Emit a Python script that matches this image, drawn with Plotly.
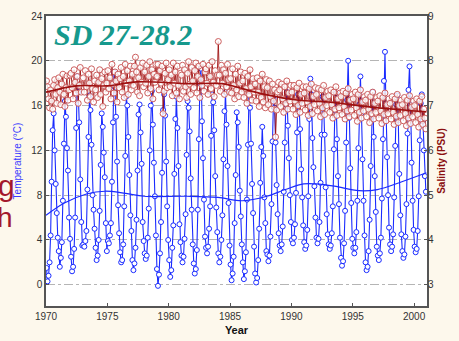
import plotly.graph_objects as go

years = list(range(1970, 2001))
months = list(range(1, 13))

# monthly temperature (°C), Jan..Dec for each year
temperature = [
    1.5, 0.3, 0.8, 2.0, 4.4, 9.2, 13.8, 15.3, 12.0, 9.0, 6.4, 4.2,      # 1970
    3.0, 1.6, 2.4, 3.8, 7.5, 12.6, 16.4, 15.0, 12.2, 10.2, 6.0, 4.1,    # 1971
    2.5, 1.2, 1.6, 3.2, 6.0, 14.0, 18.6, 17.2, 14.5, 9.4, 5.6, 3.5,     # 1972
    3.6, 3.4, 3.9, 4.8, 8.5, 13.2, 16.9, 15.6, 12.5, 8.0, 6.7, 5.0,     # 1973
    3.3, 2.2, 2.6, 4.0, 6.6, 10.7, 15.3, 14.1, 11.8, 9.6, 5.5, 3.0,     # 1974
    3.9, 3.7, 4.4, 5.5, 9.2, 14.5, 19.0, 17.6, 15.0, 11.0, 7.1, 4.6,    # 1975
    2.9, 2.0, 2.2, 3.6, 7.0, 11.5, 16.8, 16.0, 13.2, 9.8, 6.2, 4.8,     # 1976
    2.2, 1.3, 1.9, 3.3, 5.8, 10.2, 15.2, 16.1, 13.6, 10.8, 5.6, 3.9,    # 1977
    2.8, 2.3, 2.6, 4.2, 6.8, 12.0, 16.0, 17.3, 14.3, 10.9, 7.9, 4.4,    # 1978
    1.4, -0.1, 0.9, 2.8, 5.6, 10.0, 15.6, 17.0, 15.1, 11.0, 7.0, 4.0,   # 1979
    2.2, 0.7, 1.3, 3.3, 5.3, 9.9, 14.8, 16.8, 14.0, 10.6, 5.4, 3.8,     # 1980
    2.6, 2.0, 2.5, 4.1, 6.3, 11.6, 16.4, 15.8, 13.7, 9.5, 6.7, 3.6,     # 1981
    1.9, 1.0, 1.4, 3.1, 6.7, 13.0, 18.0, 19.3, 14.6, 11.3, 7.6, 4.3,    # 1982
    3.3, 2.8, 3.4, 5.0, 7.0, 13.3, 17.0, 16.3, 13.8, 9.7, 6.9, 4.7,     # 1983
    2.8, 2.0, 2.5, 4.0, 6.2, 11.2, 15.5, 17.2, 14.3, 10.6, 7.3, 3.5,    # 1984
    1.8, 0.4, 1.0, 2.5, 5.5, 9.8, 15.4, 14.5, 12.3, 8.4, 6.1, 3.6,      # 1985
    2.0, 0.5, 1.2, 2.9, 7.6, 12.5, 16.9, 15.8, 12.6, 9.0, 6.4, 3.4,     # 1986
    1.0, 0.2, 0.6, 2.2, 5.0, 9.1, 12.3, 14.1, 11.5, 7.8, 5.5, 3.0,      # 1987
    2.7, 2.1, 2.6, 4.3, 7.2, 12.8, 16.6, 15.8, 12.7, 8.9, 6.3, 4.6,     # 1988
    3.5, 3.0, 3.6, 5.2, 8.3, 12.7, 16.1, 17.2, 14.2, 11.3, 8.0, 5.6,    # 1989
    4.0, 3.7, 4.2, 5.4, 8.2, 13.6, 17.0, 16.2, 13.9, 10.3, 7.8, 5.3,    # 1990
    3.8, 3.2, 3.5, 4.9, 7.9, 14.8, 18.4, 17.0, 13.1, 10.5, 8.8, 6.0,    # 1991
    4.2, 3.7, 4.1, 5.6, 9.1, 13.4, 16.8, 16.1, 13.4, 8.7, 6.3, 4.5,     # 1992
    3.6, 3.2, 3.5, 4.6, 7.0, 12.1, 15.6, 17.1, 13.0, 9.7, 7.2, 4.2,     # 1993
    2.4, 1.7, 2.1, 3.7, 6.6, 12.7, 16.5, 20.0, 14.9, 10.4, 7.3, 4.1,    # 1994
    3.3, 2.8, 3.3, 4.7, 7.5, 12.2, 16.1, 18.6, 15.3, 11.2, 7.5, 4.4,    # 1995
    2.0, 1.3, 1.6, 3.0, 5.8, 10.6, 15.2, 17.2, 13.2, 9.7, 6.5, 3.4,     # 1996
    2.6, 2.2, 2.8, 4.2, 7.7, 13.0, 18.2, 20.8, 15.6, 11.4, 8.0, 5.1,    # 1997
    3.6, 3.0, 3.4, 4.5, 7.8, 12.4, 16.1, 16.9, 14.7, 9.9, 6.2, 4.5,     # 1998
    3.0, 2.4, 2.7, 4.3, 7.2, 13.5, 17.4, 19.5, 16.1, 10.9, 7.5, 4.9,    # 1999
    3.4, 2.9, 3.2, 4.8, 7.9, 12.9, 16.2, 17.0, 14.6, 12.0, 9.7, 8.3,    # 2000
]

# monthly salinity (PSU), Jan..Dec for each year
salinity = [
    7.55, 7.42, 7.15, 6.95, 7.35, 7.10, 6.92, 7.45, 7.58, 7.25, 7.05, 7.40,  # 1970
    7.62, 7.30, 7.02, 7.48, 7.70, 7.25, 6.98, 7.40, 7.66, 7.12, 7.35, 7.68,  # 1971
    7.72, 7.40, 7.15, 7.80, 7.52, 7.28, 7.65, 7.05, 7.45, 7.85, 7.30, 7.60,  # 1972
    7.62, 7.30, 7.78, 7.42, 7.12, 7.70, 7.50, 7.20, 7.82, 7.38, 7.08, 7.55,  # 1973
    7.35, 7.68, 7.18, 7.52, 7.80, 7.25, 7.60, 6.98, 7.45, 7.75, 7.30, 7.50,  # 1974
    7.78, 7.38, 7.62, 7.15, 7.92, 7.48, 7.28, 7.75, 7.55, 7.08, 7.70, 7.40,  # 1975
    7.60, 7.85, 7.30, 7.65, 7.18, 7.92, 7.50, 7.78, 7.25, 7.55, 7.88, 7.35,  # 1976
    7.70, 7.45, 7.88, 8.08, 7.75, 7.30, 7.62, 7.22, 7.85, 7.52, 7.95, 7.42,  # 1977
    7.75, 7.50, 7.90, 7.28, 7.65, 7.98, 7.38, 7.80, 7.15, 7.70, 7.52, 7.92,  # 1978
    7.65, 7.92, 7.35, 7.78, 7.50, 7.88, 6.82, 7.32, 7.72, 7.95, 7.40, 7.58,  # 1979
    7.80, 7.42, 7.68, 7.22, 7.95, 7.50, 7.75, 7.28, 7.88, 7.45, 7.15, 7.72,  # 1980
    7.68, 7.90, 7.32, 7.80, 7.42, 7.18, 7.72, 7.98, 7.48, 7.25, 7.85, 7.55,  # 1981
    7.40, 7.78, 7.95, 7.28, 7.65, 7.88, 7.18, 7.58, 7.45, 7.92, 7.32, 7.75,  # 1982
    7.82, 7.50, 7.25, 7.90, 7.65, 7.38, 7.98, 7.52, 7.20, 7.78, 7.45, 7.68,  # 1983
    8.43, 7.68, 7.32, 7.90, 7.50, 7.80, 7.25, 7.72, 7.42, 7.92, 7.58, 7.30,  # 1984
    7.60, 7.28, 7.82, 7.45, 7.15, 7.70, 7.35, 7.88, 7.20, 7.50, 7.75, 7.30,  # 1985
    7.55, 7.18, 7.72, 7.38, 7.05, 7.65, 7.25, 7.80, 7.42, 7.12, 7.60, 7.30,  # 1986
    7.48, 7.10, 7.62, 7.30, 6.98, 7.55, 7.18, 7.70, 7.08, 7.42, 6.95, 7.58,  # 1987
    7.40, 7.02, 7.55, 7.20, 6.92, 7.48, 7.10, 7.35, 6.30, 6.90, 7.30, 7.52,  # 1988
    7.35, 6.98, 7.48, 7.15, 6.85, 7.42, 7.05, 7.55, 6.92, 7.28, 7.10, 7.45,  # 1989
    7.30, 6.92, 7.45, 7.10, 6.80, 7.40, 7.00, 7.50, 6.85, 7.25, 7.05, 7.42,  # 1990
    7.28, 6.90, 7.42, 7.08, 6.78, 7.38, 6.98, 7.48, 6.82, 7.20, 7.02, 7.40,  # 1991
    7.25, 6.88, 7.38, 7.05, 6.75, 7.35, 6.95, 7.45, 6.80, 7.18, 7.00, 7.32,  # 1992
    7.22, 6.85, 7.35, 7.02, 6.72, 7.30, 6.92, 7.42, 6.78, 7.15, 6.95, 7.28,  # 1993
    7.20, 6.80, 7.32, 6.98, 6.70, 7.28, 6.88, 7.38, 6.75, 7.12, 6.90, 7.25,  # 1994
    7.15, 6.78, 7.30, 6.95, 6.65, 7.25, 6.85, 7.35, 6.72, 7.08, 6.88, 7.20,  # 1995
    7.12, 6.75, 7.25, 6.92, 6.62, 7.20, 6.82, 7.30, 6.70, 7.05, 6.85, 7.18,  # 1996
    7.10, 6.72, 7.22, 6.88, 6.60, 7.18, 6.80, 7.28, 6.66, 7.02, 6.82, 7.15,  # 1997
    7.05, 6.70, 7.20, 6.85, 6.58, 7.15, 6.76, 7.25, 6.62, 7.00, 6.78, 7.12,  # 1998
    7.02, 6.66, 7.18, 6.82, 6.55, 7.12, 6.72, 7.22, 6.60, 6.96, 6.75, 7.10,  # 1999
    7.00, 6.62, 7.15, 6.80, 6.52, 7.10, 6.70, 7.20, 6.58, 6.92, 6.72, 6.48,  # 2000
]

# smoothed trends
temp_trend_years = [1970, 1971.5, 1973.3, 1974.8, 1976.5, 1978, 1981.5, 1984, 1986, 1988,
                    1989.5, 1991, 1992, 1993.5, 1995.5, 1997, 1999, 2001]
temp_trend = [6.2, 7.3, 8.1, 8.35, 8.15, 7.9, 7.9, 7.8, 7.5, 7.9,
              8.5, 9.0, 9.0, 8.8, 8.4, 8.5, 9.2, 10.0]
sal_trend_years = [1970, 1972.5, 1975, 1977.4, 1981.6, 1984.3, 1985.3, 1987.8, 1990.6, 1993, 1997, 2001]
sal_trend = [7.30, 7.44, 7.44, 7.53, 7.49, 7.49, 7.43, 7.25, 7.12, 7.08, 6.95, 6.86]

x_ticks = [1970, 1975, 1980, 1985, 1990, 1995, 2000]
temp_ticks = [0, 4, 8, 12, 16, 20, 24]
sal_ticks = [3, 4, 5, 6, 7, 8, 9]

t = [y + (m - 0.5) / 12 for y in years for m in months]

BLUE = "#1a2bff"
DARKRED = "#9e1010"
FONT = "Liberation Sans, Arial, sans-serif"

fig = go.Figure()
fig.add_trace(go.Scatter(
    x=t, y=temperature, mode="lines+markers",
    line=dict(color=BLUE, width=1.1),
    marker=dict(symbol="circle", size=5, color="white", line=dict(color=BLUE, width=1)),
    showlegend=False))
fig.add_trace(go.Scatter(
    x=temp_trend_years, y=temp_trend, mode="lines", line_shape="spline",
    line=dict(color=BLUE, width=1.2), showlegend=False))
fig.add_trace(go.Scatter(
    x=t, y=salinity, mode="lines+markers", yaxis="y2",
    line=dict(color=DARKRED, width=0.9),
    marker=dict(symbol="circle", size=6, color="rgba(255,255,255,0.8)", line=dict(color="#cc5e5e", width=1)),
    showlegend=False))
fig.add_trace(go.Scatter(
    x=sal_trend_years, y=sal_trend, mode="lines", line_shape="spline", yaxis="y2",
    line=dict(color=DARKRED, width=1.6), showlegend=False))

fig.add_annotation(text="<b><i>SD 27-28.2</i></b>", xref="paper", yref="paper",
                   x=0.015, y=0.935, xanchor="left", yanchor="middle", showarrow=False,
                   font=dict(family="Liberation Serif, Times New Roman, serif", size=30, color="#16998d"))
fig.add_annotation(text="g", xref="paper", yref="paper", x=-0.075, y=0.415,
                   xanchor="right", yanchor="middle", showarrow=False,
                   font=dict(family=FONT, size=30, color="#a3182c"))
fig.add_annotation(text="h", xref="paper", yref="paper", x=-0.081, y=0.305,
                   xanchor="right", yanchor="middle", showarrow=False,
                   font=dict(family=FONT, size=28, color="#a3182c"))

axis_common = dict(showline=True, linecolor="#555555", linewidth=1.5, mirror=True,
                   ticks="inside", ticklen=3, tickcolor="#555555",
                   tickfont=dict(family=FONT, size=10, color="#333333"), zeroline=False)

fig.update_layout(
    width=459, height=341,
    margin=dict(l=46, r=32, t=16, b=35, autoexpand=False),
    paper_bgcolor="#fdf8ec", plot_bgcolor="white",
    xaxis=dict(range=[1970, 2001.05], tickvals=x_ticks, showgrid=False,
               title=dict(text="<b>Year</b>", font=dict(family=FONT, size=11, color="#111"), standoff=6),
               **axis_common),
    yaxis=dict(range=[-1.9, 24], tickvals=temp_ticks, showgrid=True, gridcolor="#b5b5b5",
               griddash="dashdot", gridwidth=1,
               title=dict(text="Temperature (°C)", font=dict(family=FONT, size=10, color="#3a3aff"), standoff=8),
               **axis_common),
    yaxis2=dict(range=[2.525, 9], tickvals=sal_ticks, overlaying="y", side="right", showgrid=False,
                showline=False, ticks="inside", ticklen=3, tickcolor="#555555", zeroline=False,
                tickfont=dict(family=FONT, size=10, color="#333333"),
                title=dict(text="<b>Salinity (PSU)</b>", font=dict(family=FONT, size=10, color="#8b1010"), standoff=4)),
)

fig.write_html("out.html")
